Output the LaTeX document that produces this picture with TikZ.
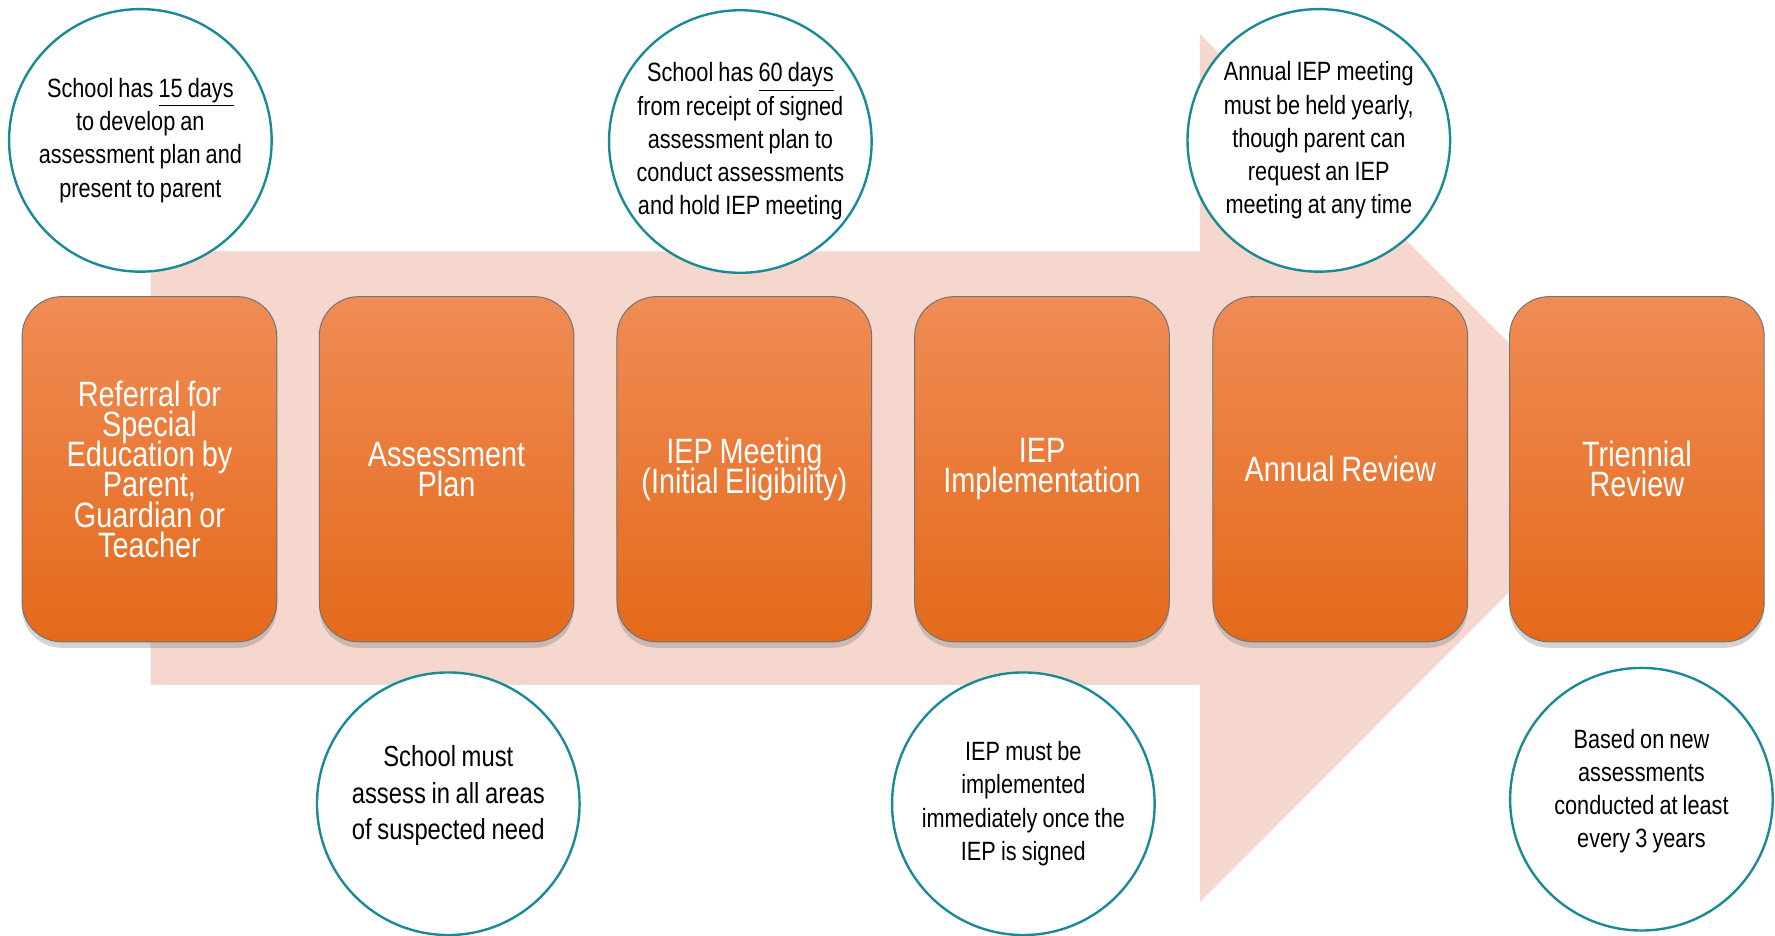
\documentclass[tikz,border=0pt]{standalone}
\usepackage{fontspec}
\setmainfont{Liberation Sans}[FakeStretch=0.82, WordSpace=0.85]
\usepackage{xcolor}
\usetikzlibrary{shadows}

\definecolor{stagetop}{HTML}{F08C55}
\definecolor{stagebot}{HTML}{E4691A}
\definecolor{arrowpink}{HTML}{F6D7CD}
\definecolor{noteteal}{HTML}{1A8A94}

\begin{document}
\begin{tikzpicture}[
            x = 0.02cm, y = -0.02cm, % one unit = one pixel of the picture
            stage/.style = {rectangle, rounded corners=0.7cm,
                minimum width=4.5cm, minimum height=6.1cm,
                align=center, top color=stagetop, bottom color=stagebot,
                draw=black!55, line width=0.5pt, text=white,
                drop shadow={shadow xshift=0pt, shadow yshift=-3pt, opacity=0.35},
                font={\fontsize{17.7}{15.2}\selectfont\lineskiplimit=-8pt\relax}}, % orange step box
            note/.style = {circle, draw=noteteal, line width=1.2pt, fill=white,
                minimum size=4.64cm, inner sep=-6pt, align=center,
                font=\fontsize{13.3}{16.7}\selectfont} % remark bubble
        ]
\useasboundingbox (0,0) rectangle (1568,826);

% big arrow behind the steps
\fill[arrowpink] (133,222) -- (1060,222) -- (1060,30) -- (1443,413)
    -- (1060,797) -- (1060,605) -- (133,605) -- cycle;

% steps
\node[stage] (ref) at (132,414.5) {Referral for\\Special\\Education by\\Parent,\\Guardian or\\Teacher};
\node[stage] (plan) at (394.5,414.5) {Assessment\\Plan};
\node[stage] (meet) at (657.5,414.5) {IEP Meeting\\(Initial Eligibility)};
\node[stage] (impl) at (920.5,414.5) {IEP\\Implementation};
\node[stage] (annual) at (1184,414.5) {Annual Review};
\node[stage] (tri) at (1446,414.5) {Triennial\\Review};

% remarks
\node[note] (n15) at (124,124) {School has \underline{15 days}\\to develop an\\assessment plan and\\present to parent};
\node[note] (n60) at (654,125) {School has \underline{60 days}\\from receipt of signed\\assessment plan to\\conduct assessments\\and hold IEP meeting};
\node[note] (nyear) at (1165,124) {Annual IEP meeting\\must be held yearly,\\though parent can\\request an IEP\\meeting at any time};
\node[note, font=\fontsize{14.6}{18.3}\selectfont, text depth=11pt] (nneed) at (396,710) {School must\\assess in all areas\\of suspected need};
\node[note] (nsign) at (904,710) {IEP must be\\implemented\\immediately once the\\IEP is signed};
\node[note, text depth=11pt] (n3y) at (1450,706) {Based on new\\assessments\\conducted at least\\every 3 years};
\end{tikzpicture}
\end{document}
